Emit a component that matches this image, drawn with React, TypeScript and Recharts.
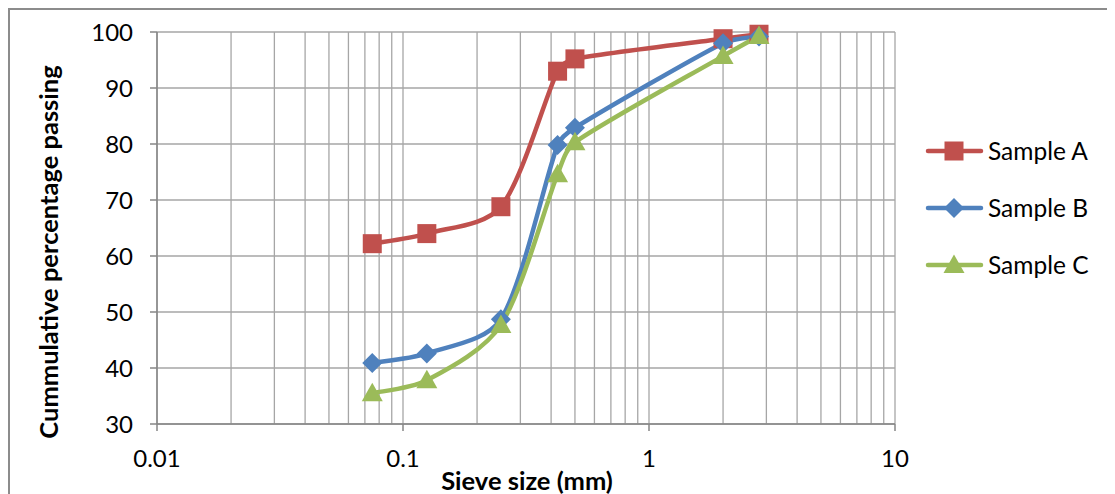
import React from "react";
import { LineChart, Line, XAxis, YAxis, CartesianGrid, Legend } from "recharts";

const sieveSizes = [0.075, 0.125, 0.25, 0.425, 0.5, 2, 2.8];
const sampleA = [62.2, 64.0, 68.8, 93.0, 95.2, 98.8, 99.6];
const sampleB = [40.9, 42.6, 48.7, 79.8, 82.9, 98.0, 99.2];
const sampleC = [35.5, 37.8, 47.7, 74.6, 80.3, 95.7, 99.3];

const xTicks = [
  0.01, 0.02, 0.03, 0.04, 0.05, 0.06, 0.07, 0.08, 0.09,
  0.1, 0.2, 0.3, 0.4, 0.5, 0.6, 0.7, 0.8, 0.9,
  1, 2, 3, 4, 5, 6, 7, 8, 9, 10,
];
const yTicks = [30, 40, 50, 60, 70, 80, 90, 100];

const seriesNames = ["Sample A", "Sample B", "Sample C"];
const seriesColors = ["#C0504D", "#4F81BD", "#9BBB59"];

const data = sieveSizes.map((s, i) => ({
  size: s,
  a: sampleA[i],
  b: sampleB[i],
  c: sampleC[i],
}));

const FONT = "Lato, 'Open Sans', sans-serif";
const FS = 24;
const FS_LEG = 24.5;
const FS_TITLE = 25.5;

// Excel-like smoothed line: Catmull-Rom (1/6 tension) with control points limited on short segments
function excelSmooth(context: any) {
  let pts: number[][] = [];
  return {
    areaStart() {},
    areaEnd() {},
    lineStart() {
      pts = [];
    },
    point(x: number, y: number) {
      pts.push([+x, +y]);
    },
    lineEnd() {
      const n = pts.length;
      if (!n) return;
      context.moveTo(pts[0][0], pts[0][1]);
      if (n === 1) return;
      const d = (a: number[], b: number[]) => Math.hypot(b[0] - a[0], b[1] - a[1]);
      for (let i = 0; i < n - 1; i++) {
        const p0 = pts[i - 1] || pts[i];
        const p1 = pts[i];
        const p2 = pts[i + 1];
        const p3 = pts[i + 2] || pts[i + 1];
        const d01 = d(p0, p1);
        const d12 = d(p1, p2);
        const d23 = d(p2, p3);
        const f1 = Math.min(1 / 6, d12 / (3 * (d01 + d12 || 1)));
        const f2 = Math.min(1 / 6, d12 / (3 * (d12 + d23 || 1)));
        const c1x = p1[0] + (p2[0] - p0[0]) * f1;
        const c1y = p1[1] + (p2[1] - p0[1]) * f1;
        const c2x = p2[0] - (p3[0] - p1[0]) * f2;
        const c2y = p2[1] - (p3[1] - p1[1]) * f2;
        context.bezierCurveTo(c1x, c1y, c2x, c2y, p2[0], p2[1]);
      }
    },
  };
}

function Marker({ kind, cx, cy, color }: any) {
  if (cx == null || cy == null) return null;
  if (kind === 0) {
    const h = 9.5;
    return <rect x={cx - h} y={cy - h} width={h * 2} height={h * 2} fill={color} />;
  }
  if (kind === 1) {
    const h = 10;
    return (
      <polygon
        points={`${cx},${cy - h} ${cx + h},${cy} ${cx},${cy + h} ${cx - h},${cy}`}
        fill={color}
      />
    );
  }
  const w = 10.5;
  return (
    <polygon
      points={`${cx},${cy - 10.5} ${cx + w},${cy + 8} ${cx - w},${cy + 8}`}
      fill={color}
    />
  );
}

function isDecade(v: number) {
  const l = Math.log10(v);
  return Math.abs(l - Math.round(l)) < 1e-6;
}

function XTick(props: any) {
  const { x, y, payload } = props;
  const v = payload.value;
  if (!isDecade(v)) return null;
  return (
    <g>
      <line x1={x} x2={x} y1={y} y2={y + 7} stroke="#868686" strokeWidth={1.5} />
      <text x={x} y={y + 43} textAnchor="middle" fontFamily={FONT} fontSize={FS} fill="#000">
        {String(v)}
      </text>
    </g>
  );
}

function LegendContent() {
  return (
    <svg width={200} height={160} style={{ overflow: "visible" }}>
      {seriesNames.map((n, i) => {
        const cy = 20 + i * 57;
        return (
          <g key={n}>
            <line x1={2} x2={55} y1={cy} y2={cy} stroke={seriesColors[i]} strokeWidth={4.5} strokeLinecap="round" />
            <Marker kind={i} cx={28} cy={cy} color={seriesColors[i]} />
            <text x={62} y={cy} dy="0.36em" fontFamily={FONT} fontSize={FS_LEG} fill="#000">
              {n}
            </text>
          </g>
        );
      })}
    </svg>
  );
}

export default function App() {
  const keys = ["a", "b", "c"];
  return (
    <div
      style={{
        width: 1107,
        height: 486,
        borderTop: "2px solid #8c8c8c",
        borderLeft: "2px solid #8c8c8c",
        background: "#fff",
        position: "relative",
      }}
    >
      <style>{"html,body{overflow:hidden}"}</style>
      <LineChart
        width={1105}
        height={484}
        data={data}
        margin={{ top: 22, right: 220, bottom: 0, left: 0 }}
      >
        <CartesianGrid stroke="#a6a6a6" strokeWidth={1.3} />
        <XAxis
          dataKey="size"
          type="number"
          scale="log"
          domain={[0.01, 10]}
          ticks={xTicks}
          interval={0}
          allowDataOverflow
          tick={<XTick />}
          tickLine={false}
          tickSize={0}
          tickMargin={0}
          height={70}
          axisLine={{ stroke: "#868686", strokeWidth: 1.5 }}
          label={{
            content: () => (
              <text x={517} y={480} textAnchor="middle" fontFamily={FONT} fontWeight="bold" fontSize={FS_TITLE} fill="#000">
                Sieve size (mm)
              </text>
            ),
          }}
        />
        <YAxis
          type="number"
          domain={[30, 100]}
          ticks={yTicks}
          interval={0}
          width={147}
          tickSize={7}
          tickMargin={17}
          tick={{ fontFamily: FONT, fontSize: FS, fill: "#000" }}
          tickLine={{ stroke: "#868686", strokeWidth: 1.5 }}
          axisLine={{ stroke: "#868686", strokeWidth: 1.5 }}
          label={{
            content: () => (
              <text
                x={0}
                y={0}
                transform="translate(39,242) rotate(-90)"
                textAnchor="middle"
                dy="0.36em"
                fontFamily={FONT}
                fontWeight="bold"
                fontSize={FS_TITLE}
                fill="#000"
              >
                Cummulative percentage passing
              </text>
            ),
          }}
        />
        <Legend
          layout="horizontal"
          verticalAlign="middle"
          align="center"
          content={<LegendContent />}
          wrapperStyle={{ position: "absolute", left: 916, top: 121, width: 200 }}
        />
        {keys.map((k, i) => (
          <Line
            key={k}
            dataKey={k}
            name={seriesNames[i]}
            type={excelSmooth as any}
            stroke={seriesColors[i]}
            strokeWidth={4.5}
            isAnimationActive={false}
            dot={(p: any) => <Marker key={`${k}-${p.index}`} kind={i} cx={p.cx} cy={p.cy} color={seriesColors[i]} />}
            activeDot={false}
          />
        ))}
      </LineChart>
    </div>
  );
}
